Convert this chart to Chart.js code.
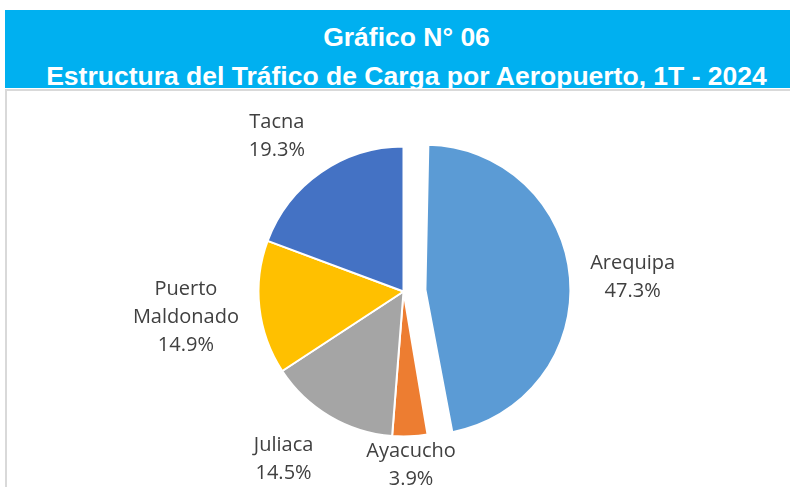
<!DOCTYPE html>
<html>
<head>
<meta charset="utf-8">
<script src="https://cdn.jsdelivr.net/npm/chart.js@4.4.1/dist/chart.umd.min.js"></script>
<style>
  body { margin: 0; background: #fff; width: 790px; height: 487px; overflow: hidden; position: relative; }
  #banner {
    position: absolute; left: 5px; top: 10px; width: 785px; height: 78px;
    background: #00B0F0; color: #fff; text-align: center;
    font-family: "Liberation Sans", Arial, sans-serif; font-weight: bold;
  }
  #banner div { position: absolute; left: 18px; right: 0; font-size: 26.5px; line-height: 30px; white-space: nowrap; }
  #banner .l1 { top: 12px; }
  #banner .l2 { top: 51px; }
  #box {
    position: absolute; left: 5px; top: 89px; width: 785px; height: 398px;
    border-left: 2px solid #d9d9d9; border-top: 2px solid #d9d9d9; box-sizing: border-box;
  }
  #wrap { position: absolute; left: 7px; top: 91px; width: 783px; height: 396px; }
</style>
</head>
<body>
<div id="banner">
  <div class="l1">Gráfico N° 06</div>
  <div class="l2">Estructura del Tráfico de Carga por Aeropuerto, 1T - 2024</div>
</div>
<div id="box"></div>
<div id="wrap"><canvas id="pieChart"></canvas></div>
<script>
const airports = ["Arequipa", "Ayacucho", "Juliaca", "Puerto Maldonado", "Tacna"];
const labelLines = [["Arequipa"], ["Ayacucho"], ["Juliaca"], ["Puerto", "Maldonado"], ["Tacna"]];
const shares = [47.3, 3.9, 14.5, 14.9, 19.3];
const colors = ["#5B9BD5", "#ED7D31", "#A5A5A5", "#FFC000", "#4472C4"];

const pieRadius = 145;
// chart.js v4 moves an arc by offset/4, so 88 -> 22px
const explode = [88, 0, 0, 0, 0];

// distance of each label from the pie centre (x radius) and a small nudge
const labelDist = [1.434, 1.18, 1.38, 1.51, 1.41];
const labelNudge = [[0, 5], [0, 3], [-18, -4], [0, 1], [-10, 13]];

// keep the exploded slice the same size as the rest (chart.js grows it otherwise)
const keepRadius = {
  id: "keepRadius",
  beforeDatasetsDraw(chart) {
    chart.getDatasetMeta(0).data.forEach(arc => {
      const off = (arc.options.offset || 0) / 4;
      const fix = 1 - Math.sin(Math.min(Math.PI, arc.circumference));
      arc.outerRadius = pieRadius - off * fix;
    });
  }
};

const outsideLabels = {
  id: "outsideLabels",
  afterDatasetsDraw(chart) {
    const ctx = chart.ctx;
    const arcs = chart.getDatasetMeta(0).data;
    ctx.save();
    ctx.font = "20px 'Open Sans'";
    ctx.fillStyle = "#404040";
    ctx.textAlign = "center";
    ctx.textBaseline = "middle";
    arcs.forEach((arc, i) => {
      const mid = (arc.startAngle + arc.endAngle) / 2;
      const d = pieRadius * labelDist[i] + (arc.options.offset || 0) / 4;
      const cx = arc.x + Math.cos(mid) * d + labelNudge[i][0];
      const cy = arc.y + Math.sin(mid) * d + labelNudge[i][1];
      const lines = labelLines[i].concat([shares[i].toFixed(1) + "%"]);
      const lh = 28;
      const top = cy - (lines.length - 1) * lh / 2;
      lines.forEach((t, k) => ctx.fillText(t, cx, top + k * lh));
    });
    ctx.restore();
  }
};

new Chart(document.getElementById("pieChart"), {
  type: "pie",
  data: {
    labels: airports,
    datasets: [{
      data: shares,
      backgroundColor: colors,
      borderColor: "#fff",
      borderWidth: 2,
      offset: explode,
    }],
  },
  options: {
    responsive: true,
    maintainAspectRatio: false,
    animation: false,
    radius: pieRadius,
    layout: { padding: { left: 10, right: 0, top: 5, bottom: 0 } },
    plugins: {
      legend: { display: false },
      tooltip: { enabled: false },
    },
  },
  plugins: [keepRadius, outsideLabels],
});
</script>
</body>
</html>
